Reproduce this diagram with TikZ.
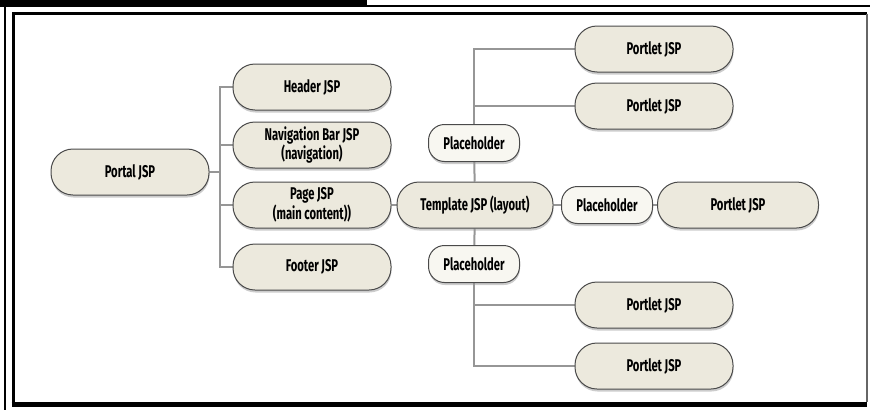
\documentclass[tikz,border=0pt]{standalone}
\usepackage{fontspec}
\newfontfamily\jspfont[FakeStretch=0.66]{Fira Sans}
\usetikzlibrary{positioning,shadows,backgrounds}

\definecolor{jspfill}{HTML}{ECE9DD}
\definecolor{holdfill}{HTML}{F8F7F1}
\definecolor{jspline}{HTML}{4A4A4A}
\definecolor{linkgray}{HTML}{969696}

\begin{document}
\begin{tikzpicture}[
  x=1pt,y=-1pt,
  jsp/.style={draw=jspline,line width=1pt,fill=jspfill,rounded corners=22pt,
    minimum width=158pt,minimum height=46pt,inner sep=2pt,align=center,
    font=\jspfont\bfseries\fontsize{17}{13.5}\selectfont,
    drop shadow={shadow xshift=0.5pt,shadow yshift=-2.5pt,fill=black!40}},
  holder/.style={jsp,fill=holdfill,rounded corners=16pt,
    minimum width=91pt,minimum height=37pt},
  link/.style={draw=linkgray,line width=2pt}
]
  \useasboundingbox (0,0) rectangle (870,410);

  % frame
  \fill (0,0) rectangle (367,5);
  \draw[line width=2pt] (0,5.5) -- (870,5.5) (4.5,5.5) -- (4.5,410);
  \draw[line width=3pt] (13,405) -- (13,13.5) -- (867,13.5);
  \draw[line width=5pt] (11.5,404.5) -- (867,404.5);
  \draw[line width=2pt,black!60] (867,13.5) -- (867,402);

  \node[jsp] (portal) at (130,172) {Portal JSP};

  \node[jsp] (header) at (312,87) {Header JSP};
  \node[jsp] (nav) at (312,145) {Navigation Bar JSP\\(navigation)};
  \node[jsp] (page) at (312,205) {Page JSP\\(main content))};
  \node[jsp] (footer) at (312,267) {Footer JSP};

  \node[jsp,minimum width=156pt] (template) at (475,205) {Template JSP (layout)};
  \node[holder] (phTop) at (474,143) {Placeholder};
  \node[holder] (phMid) at (607,205) {Placeholder};
  \node[holder] (phBot) at (474,264) {Placeholder};

  \node[jsp] (portletA) at (654,49) {Portlet JSP};
  \node[jsp] (portletB) at (654,106) {Portlet JSP};
  \node[jsp,minimum width=161pt] (portletC) at (738,205) {Portlet JSP};
  \node[jsp] (portletD) at (654,305) {Portlet JSP};
  \node[jsp] (portletE) at (654,366) {Portlet JSP};

  \coordinate (bus) at (220,172);

  \begin{scope}[on background layer]
    \draw[link] (portal) -- (bus);
    \foreach \n in {header,nav,page,footer}
      \draw[link] (bus) |- (\n);
    \draw[link] (page) -- (template);
    \draw[link] (template) -- (phMid);
    \draw[link] (phMid) -- (portletC);
    \draw[link] (template) -- (phTop);
    \draw[link] (template) -- (phBot);
    \draw[link] (phTop) |- (portletA);
    \draw[link] (phTop) |- (portletB);
    \draw[link] (phBot) |- (portletD);
    \draw[link] (phBot) |- (portletE);
  \end{scope}
\end{tikzpicture}
\end{document}
